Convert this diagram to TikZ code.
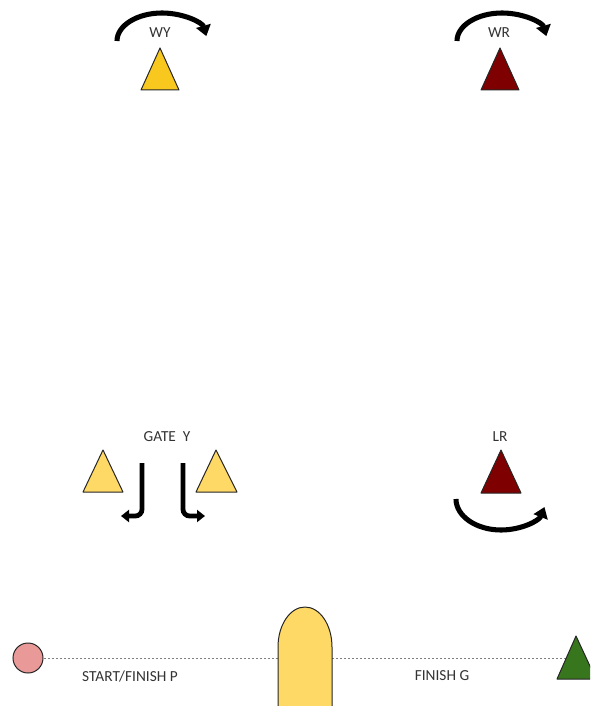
\documentclass[tikz,border=0pt]{standalone}
\usepackage{fontspec}
\setmainfont{Carlito}
\usetikzlibrary{arrows.meta}
\definecolor{wyfill}{HTML}{F8C81E}
\definecolor{goldc}{HTML}{FFD966}
\definecolor{darkredc}{HTML}{7F0000}
\definecolor{pinkc}{HTML}{EA9999}
\definecolor{greenc}{HTML}{38761D}
\definecolor{txt}{HTML}{333333}
\begin{document}
\begin{tikzpicture}[x=0.75pt,y=-0.75pt,
  cone/.style={draw=black!85, line width=0.75pt, line join=round},
  turn/.style={line width=3.8pt, -{Triangle[width=11pt,length=8pt]}},
  gatearrow/.style={line width=3.6pt, rounded corners=5pt, -{Triangle[width=9pt,length=6pt]}},
  lbl/.style={font=\fontsize{11.5}{13}\selectfont, text=txt, inner sep=0pt},
  track/.style={draw=gray, line width=0.6pt, dash pattern=on 1.5pt off 1.5pt},
  startc/.style={circle, draw=black!85, line width=0.75pt, fill=pinkc, minimum size=22.5pt, inner sep=0pt}]
\useasboundingbox (0,0) rectangle (590,706);
\clip (0,0) rectangle (590,706);

% top cones
\draw[cone, fill=wyfill] (160,48) -- (141,90) -- (179,90) -- cycle;
\node[lbl] (wy) at (160,33) {WY};
\draw[turn] (117,41) arc[start angle=180, end angle=350, x radius=45, y radius=28];

\draw[cone, fill=darkredc] (500,48) -- (481,90) -- (519,90) -- cycle;
\node[lbl] (wr) at (499,33) {WR};
\draw[turn] (457,41) arc[start angle=180, end angle=350, x radius=45, y radius=28];

% gate Y
\node[lbl] (gatey) at (167,437) {GATE~~Y};
\draw[cone, fill=goldc] (103,450) -- (83,492) -- (123,492) -- cycle;
\draw[cone, fill=goldc] (216,450) -- (196,492) -- (237,492) -- cycle;
\draw[gatearrow] (142,463) -- (142,516) -- (121,516);
\draw[gatearrow] (183,463) -- (183,516) -- (205,516);

% LR
\node[lbl] (lr) at (500,437) {LR};
\draw[cone, fill=darkredc] (501,450) -- (481,493) -- (521,493) -- cycle;
\draw[turn] (456,499) arc[start angle=180, end angle=15, x radius=45, y radius=31];

% bottom track
\node[startc] (start) at (28,658) {};
\coordinate (gl) at (278,658);
\coordinate (gr) at (332,658);
\coordinate (fin) at (566,658);
\draw[track] (start) -- (gl);
\draw[track] (gr) -- (fin);
\draw[cone, fill=goldc] (278,708) -- (278,647) arc[start angle=180, end angle=360, x radius=27, y radius=40] -- (332,708);
\draw[cone, fill=greenc] (576,636) -- (557,679) -- (596,679) -- cycle;
\node[lbl] (sf) at (130,676) {START/FINISH P};
\node[lbl] (fg) at (442,676) {FINISH G};
\end{tikzpicture}
\end{document}
